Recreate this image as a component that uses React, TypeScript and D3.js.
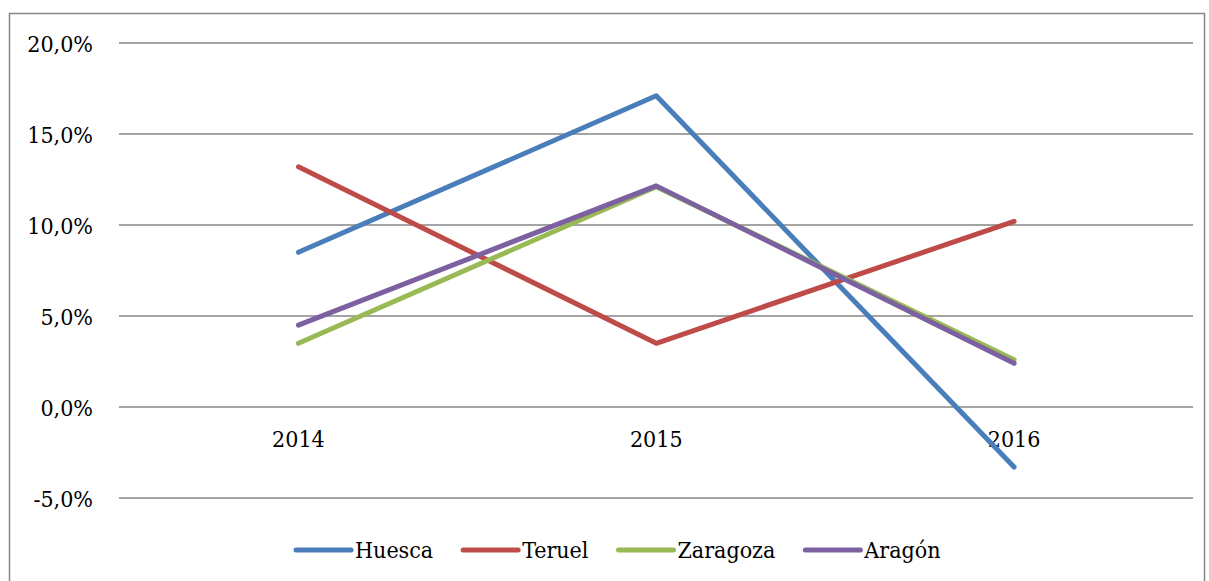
import React from "react";
import * as d3 from "d3";

const years = ["2014", "2015", "2016"];
const seriesNames = ["Huesca", "Teruel", "Zaragoza", "Aragón"];
const huesca = [8.5, 17.1, -3.3];
const teruel = [13.2, 3.5, 10.2];
const zaragoza = [3.5, 12.1, 2.6];
const aragon = [4.5, 12.15, 2.4];
const yTicks = [-5, 0, 5, 10, 15, 20];
const colors = ["#4A7EBB", "#BE4B48", "#98B954", "#7D60A0"];

const W = 1209;
const H = 581;
const FONT = "'DejaVu Serif Condensed', 'DejaVu Serif'";

function measure(text: string, size: number) {
  if (typeof document === "undefined") return text.length * size * 0.5;
  const c = document.createElement("canvas").getContext("2d");
  if (!c) return text.length * size * 0.5;
  c.font = `condensed ${size}px ${FONT}`;
  return c.measureText(text).width;
}

export default function App() {
  const values = [huesca, teruel, zaragoza, aragon];
  const x = d3.scaleBand<string>().domain(years).range([119.5, 1193]).padding(0);
  const y = d3.scaleLinear().domain([-5, 20]).range([498, 43]);
  const cx = (yr: string) => (x(yr) as number) + x.bandwidth() / 2;
  const line = d3
    .line<number>()
    .x((_, i) => cx(years[i]))
    .y((d) => y(d));

  const fmt = (v: number) => v.toFixed(1).replace(".", ",") + "%";

  const lineLen = 55;
  const gapText = 4;
  const gapItem = 30;
  const fs = 23;
  const widths = seriesNames.map((n) => measure(n, fs));
  let lx = 296;
  const items = seriesNames.map((n, i) => {
    const start = lx;
    lx += lineLen + gapText + widths[i] + gapItem;
    return { n, start, i };
  });

  const textStyle = { fontFamily: FONT, fontStretch: "condensed" as const };

  return (
    <svg width={W} height={H} style={{ position: "absolute", left: 0, top: 0 }}>
      <rect x={0} y={0} width={W} height={H} fill="#fff" />
      <rect x={9.5} y={13.5} width={1195} height={600} fill="none" stroke="#868686" strokeWidth={1.5} />
      {yTicks.map((t) => (
        <g key={t}>
          <line x1={119} x2={1193} y1={y(t)} y2={y(t)} stroke="#868686" strokeWidth={1.5} />
          <text x={93} y={y(t) + 8.5} textAnchor="end" fontSize={fs} style={textStyle} fill="#000">
            {fmt(t)}
          </text>
        </g>
      ))}
      {years.map((yr) => (
        <text key={yr} x={cx(yr)} y={447} textAnchor="middle" fontSize={fs} style={textStyle} fill="#000">
          {yr}
        </text>
      ))}
      {values.map((vals, i) => (
        <path key={seriesNames[i]} d={line(vals) || ""} fill="none" stroke={colors[i]} strokeWidth={5} strokeLinecap="round" strokeLinejoin="round" />
      ))}
      {items.map(({ n, start, i }) => (
        <g key={n}>
          <line x1={start} x2={start + lineLen} y1={550} y2={550} stroke={colors[i]} strokeWidth={5} strokeLinecap="round" />
          <text x={start + lineLen + gapText} y={558} fontSize={fs} style={textStyle} fill="#000">
            {n}
          </text>
        </g>
      ))}
    </svg>
  );
}
